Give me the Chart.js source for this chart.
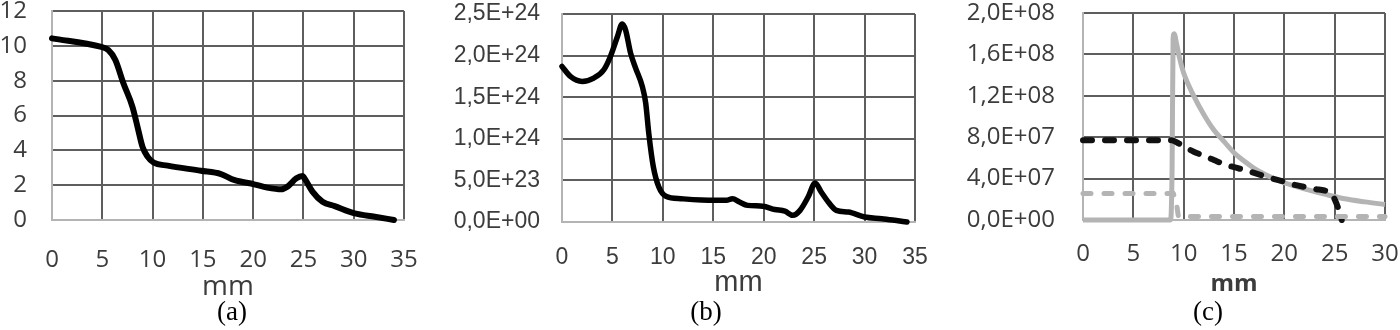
<!DOCTYPE html>
<html>
<head>
<meta charset="utf-8">
<script src="https://cdn.jsdelivr.net/npm/chart.js@4.4.0/dist/chart.umd.min.js"></script>
<style>
  html, body { margin: 0; padding: 0; background: #fff; }
  body { width: 1400px; height: 330px; position: relative; overflow: hidden; }
  .box { position: absolute; top: 0; height: 300px; }
  .cap { position: absolute; top: 296px; font-family: "Liberation Serif", "Times New Roman", serif; font-size: 27px; color: #000; transform: translateX(-50%); }
</style>
</head>
<body>
<div class="box" id="boxA" style="left:0;width:430px"><canvas id="cA"></canvas></div>
<div class="box" id="boxB" style="left:440px;width:500px"><canvas id="cB"></canvas></div>
<div class="box" id="boxC" style="left:960px;width:440px"><canvas id="cC"></canvas></div>
<div class="cap" style="left:232px">(a)</div>
<div class="cap" style="left:706px">(b)</div>
<div class="cap" style="left:1208px">(c)</div>
<script>
// ---- Data ----
// (a)
const aX = [0, 4.8, 5.6, 6.3, 7.1, 8.0, 8.5, 9.0, 9.5, 10.1, 11.5, 14.8, 16.8, 18.1, 20.1, 21.4, 22.8, 23.4, 24.3, 24.9, 25.2, 25.9, 26.9, 28.1, 30.1, 32.1, 34.0];
const aY = [10.43, 9.95, 9.76, 9.19, 7.85, 6.5, 5.36, 4.2, 3.64, 3.3, 3.12, 2.83, 2.64, 2.3, 2.05, 1.86, 1.76, 1.91, 2.39, 2.53, 2.3, 1.63, 1.05, 0.8, 0.38, 0.19, 0.0];
const aYTicks = ['0', '2', '4', '6', '8', '10', '12'];
const aXTicks = ['0', '5', '10', '15', '20', '25', '30', '35'];

// (b)  values in units of 1E24
const bX = [0, 0.83, 2.0, 3.15, 4.15, 4.8, 5.5, 5.97, 6.3, 6.8, 7.3, 7.96, 8.3, 8.6, 9.06, 9.6, 10.3, 11.8, 15.1, 16.3, 16.9, 17.6, 18.4, 19.9, 21.1, 22.1, 22.9, 23.6, 24.4, 25.1, 25.7, 26.4, 27.2, 28.4, 30.0, 31.7, 33.0, 34.2];
const bY = [1.87, 1.75, 1.69, 1.73, 1.83, 1.99, 2.23, 2.38, 2.31, 2.03, 1.85, 1.63, 1.43, 1.07, 0.66, 0.42, 0.31, 0.28, 0.26, 0.26, 0.28, 0.24, 0.20, 0.19, 0.15, 0.13, 0.08, 0.14, 0.30, 0.47, 0.36, 0.24, 0.14, 0.12, 0.06, 0.04, 0.02, 0.0];
const bYTicks = ['0,0E+00', '5,0E+23', '1,0E+24', '1,5E+24', '2,0E+24', '2,5E+24'];
const bXTicks = ['0', '5', '10', '15', '20', '25', '30', '35'];

// (c)  values in units of 1E7
const cBlackX = [0, 8.8, 9.5, 10, 11, 12, 13, 14, 15, 16, 17, 18, 19, 20, 21, 22, 23, 24, 24.5, 25.0, 25.4, 25.7];
const cBlackY = [7.7, 7.7, 7.4, 7.1, 6.6, 6.2, 5.8, 5.4, 5.1, 4.85, 4.55, 4.25, 3.95, 3.7, 3.4, 3.2, 3.0, 2.85, 2.7, 2.0, 1.0, 0.0];
const cGrayDashX = [0, 8.7, 8.95, 9.1, 9.3, 9.5, 30];
const cGrayDashY = [2.57, 2.57, 2.6, 2.1, 1.5, 0.35, 0.35];
const cGrayX = [0, 8.7, 8.85, 8.95, 9.05, 9.3, 9.6, 10, 11, 12, 13, 14, 15, 16, 17, 18, 19, 20, 22, 24, 26, 28, 30];
const cGrayY = [0, 0, 5.0, 17.5, 18.0, 17.0, 15.6, 14.2, 12.0, 10.2, 8.7, 7.6, 6.5, 5.7, 5.0, 4.45, 4.0, 3.6, 3.0, 2.5, 2.05, 1.75, 1.5];
const cYTicks = ['0,0E+00', '4,0E+07', '8,0E+07', '1,2E+08', '1,6E+08', '2,0E+08'];
const cXTicks = ['0', '5', '10', '15', '20', '25', '30'];

// ---- helpers ----
const pts = (xs, ys, k) => xs.map((x, i) => ({ x: x, y: ys[i] * k }));
const GRID = '#5e5e5e';
const EDGE = '#b4b4b4';
const TXT = '#3c3c3c';

function makeChart(id, cfg) {
  const yW = cfg.yWidth, xH = cfg.xHeight;
  return new Chart(document.getElementById(id), {
    type: 'line',
    data: { datasets: cfg.datasets },
    options: {
      responsive: true,
      maintainAspectRatio: false,
      animation: false,
      events: [],
      layout: { padding: { left: 0, right: cfg.padRight, top: cfg.padTop, bottom: 0 } },
      plugins: { legend: { display: false }, tooltip: { enabled: false } },
      elements: { point: { radius: 0 } },
      scales: {
        x: {
          type: 'linear',
          min: 0, max: cfg.xMax,
          afterBuildTicks: (s) => { s.ticks = cfg.xTicks.map((t, i) => ({ value: i * 5 })); },
          afterFit: (s) => { s.height = xH; s.paddingLeft = 0; s.paddingRight = 0; s.paddingTop = 0; s.paddingBottom = 0; },
          ticks: {
            color: TXT, padding: cfg.xTickPad, maxRotation: 0, autoSkip: false,
            font: { family: cfg.family, size: cfg.tickSize },
            callback: (v, i) => cfg.xTicks[i]
          },
          grid: { drawTicks: false, lineWidth: 2, color: (c) => c.index === 0 ? EDGE : GRID },
          border: { color: EDGE, width: 2 },
          title: {
            display: true, text: 'mm', color: TXT,
            font: { family: cfg.family, size: cfg.titleSize, weight: cfg.titleWeight, lineHeight: cfg.titleLH },
            padding: { top: 0, bottom: cfg.titlePadBottom }
          }
        },
        y: {
          min: 0, max: cfg.yMax,
          afterBuildTicks: (s) => { s.ticks = cfg.yTicks.map((t, i) => ({ value: i * cfg.yStep })); },
          afterFit: (s) => { s.width = yW; s.paddingLeft = 0; s.paddingRight = 0; s.paddingTop = 0; s.paddingBottom = 0; },
          ticks: {
            color: TXT, padding: cfg.yTickPad, autoSkip: false,
            font: { family: cfg.family, size: cfg.tickSize },
            callback: (v, i) => cfg.yTicks[i]
          },
          grid: { drawTicks: false, lineWidth: 2, color: (c) => c.index === 0 ? EDGE : GRID },
          border: { color: EDGE, width: 2 }
        }
      }
    }
  });
}

makeChart('cA', {
  yWidth: 52, xHeight: 80, padRight: 26, padTop: 11,
  xMax: 35, yMax: 12, yStep: 2,
  xTicks: aXTicks, yTicks: aYTicks,
  family: '"Open Sans", sans-serif', tickSize: 24, xTickPad: 26, yTickPad: 25,
  titleSize: 28, titleWeight: 'normal', titleLH: 1, titlePadBottom: -1,
  datasets: [{
    data: pts(aX, aY, 1), borderColor: '#000', borderWidth: 6,
    cubicInterpolationMode: 'monotone', clip: false, borderCapStyle: 'round', borderJoinStyle: 'round'
  }]
});

makeChart('cB', {
  yWidth: 122, xHeight: 78, padRight: 25, padTop: 14,
  xMax: 35, yMax: 2.5e24, yStep: 5e23,
  xTicks: bXTicks, yTicks: bYTicks,
  family: '"Liberation Sans", Arial, sans-serif', tickSize: 23, xTickPad: 22, yTickPad: 22,
  titleSize: 29, titleWeight: 'normal', titleLH: 1, titlePadBottom: 3,
  datasets: [{
    data: pts(bX, bY, 1e24), borderColor: '#000', borderWidth: 5.5,
    cubicInterpolationMode: 'monotone', clip: false, borderCapStyle: 'round', borderJoinStyle: 'round'
  }]
});

makeChart('cC', {
  yWidth: 123, xHeight: 80, padRight: 15, padTop: 13,
  xMax: 30, yMax: 2e8, yStep: 4e7,
  xTicks: cXTicks, yTicks: cYTicks,
  family: '"Open Sans", sans-serif', tickSize: 24, xTickPad: 20, yTickPad: 28,
  titleSize: 24, titleWeight: 'bold', titleLH: 1.2, titlePadBottom: 1,
  datasets: [
    {
      data: pts(cGrayDashX, cGrayDashY, 1e7), borderColor: '#b4b4b4', borderWidth: 5,
      borderDash: [8, 13], borderCapStyle: 'round', cubicInterpolationMode: 'monotone', clip: false
    },
    {
      data: pts(cBlackX, cBlackY, 1e7), borderColor: '#111', borderWidth: 6,
      borderDash: [9, 13], borderCapStyle: 'round', cubicInterpolationMode: 'monotone', clip: false
    },
    {
      data: pts(cGrayX, cGrayY, 1e7), borderColor: '#b4b4b4', borderWidth: 5,
      cubicInterpolationMode: 'monotone', clip: false, borderJoinStyle: 'round'
    }
  ]
});
</script>
</body>
</html>
